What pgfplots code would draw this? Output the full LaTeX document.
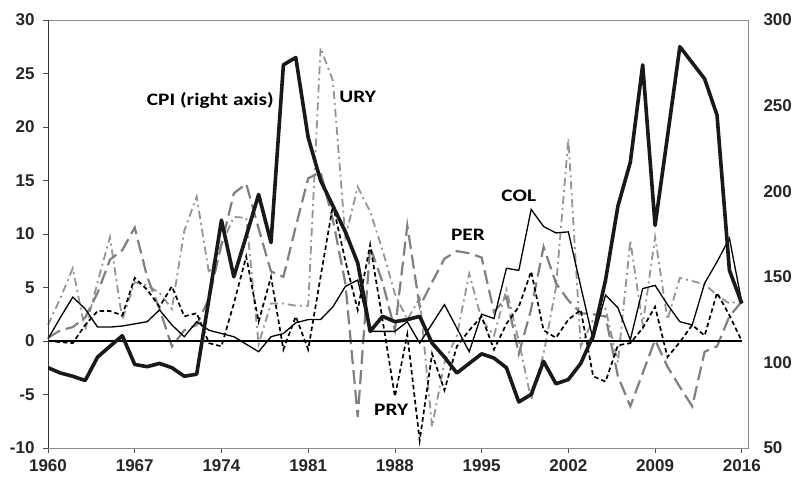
\documentclass[border=0pt]{standalone}
\usepackage{pgfplots}
\pgfplotsset{compat=1.18}
\usepackage{pgfplotstable}
\usepackage{fontspec}
\setmainfont{Liberation Sans}
\newfontfamily\carlito[FakeStretch=1.22]{Carlito}
\pgfplotstableread{
year COL PRY PER URY CPI
1960 0.2 0.0 0.3 1.5 96.9
1961 2.2 -0.1 1.0 4.0 93.8
1962 4.1 -0.2 1.3 6.8 91.9
1963 3.0 1.5 2.2 1.0 89.4
1964 1.3 2.8 4.5 5.5 103.1
1965 1.3 2.8 7.6 9.7 109.4
1966 1.4 2.4 8.5 2.0 115.6
1967 1.6 5.9 10.6 5.5 98.8
1968 1.8 4.8 6.0 5.2 97.5
1969 2.9 3.2 3.0 4.5 99.4
1970 1.5 5.1 -0.5 3.0 96.9
1971 0.4 2.3 1.0 10.3 91.9
1972 1.8 2.6 1.5 13.5 93.1
1973 1.0 -0.2 4.0 6.3 137.5
1974 0.7 -0.5 9.0 9.0 183.1
1975 0.4 3.5 13.8 11.6 150.0
1976 -0.3 7.9 14.7 11.5 173.8
1977 -1.0 1.8 10.5 -0.3 198.1
1978 0.4 6.0 6.5 3.5 170.0
1979 0.7 -0.8 6.0 3.5 273.8
1980 1.7 2.3 10.7 3.3 278.1
1981 2.0 -0.8 15.2 3.3 231.3
1982 2.0 6.0 15.8 27.4 206.3
1983 3.2 12.7 11.3 24.3 191.3
1984 5.1 7.5 5.4 9.7 176.3
1985 5.7 2.9 -7.1 14.4 158.1
1986 0.9 9.0 8.8 12.1 118.1
1987 0.9 2.0 5.5 8.5 126.9
1988 0.9 -5.2 1.0 4.4 123.8
1989 1.8 0.6 10.8 2.0 125.0
1990 -0.2 -9.3 3.2 4.0 126.9
1991 1.6 -1.2 5.5 -8.0 111.3
1992 3.4 -4.6 7.7 -2.0 103.1
1993 1.2 -0.5 8.4 0.5 93.8
1994 -1.0 1.0 8.2 6.3 99.4
1995 2.5 2.3 7.8 2.0 105.0
1996 2.1 -0.8 2.7 0.5 102.5
1997 6.8 1.6 4.1 4.8 96.9
1998 6.6 3.2 -1.2 0.0 76.9
1999 12.3 6.5 3.0 -5.5 81.3
2000 10.7 1.0 8.8 -1.2 100.6
2001 10.1 0.3 5.4 5.0 87.5
2002 10.2 2.0 3.8 18.9 90.0
2003 5.1 2.9 2.6 -0.5 99.4
2004 0.1 -3.3 2.5 2.0 115.6
2005 4.3 -3.8 2.3 3.0 148.1
2006 3.1 -0.4 -3.3 -2.0 191.3
2007 0.1 -0.2 -6.1 9.4 216.9
2008 4.9 1.2 -3.0 1.5 273.8
2009 5.2 3.2 0.1 9.7 180.0
2010 3.4 -1.5 -2.4 2.0 231.9
2011 1.8 -0.1 -4.3 5.9 284.4
2012 1.5 1.5 -6.1 5.6 275.0
2013 5.4 0.5 -1.0 5.3 265.6
2014 7.4 4.5 -0.5 4.3 244.4
2015 9.6 2.4 2.3 3.5 153.8
2016 3.6 0.0 3.7 3.8 134.4
}\data
\definecolor{pergray}{gray}{0.50}
\definecolor{urygray}{gray}{0.58}
\begin{document}
\begin{tikzpicture}[x=1pt,y=1pt]
\path[use as bounding box] (-48,-31) rectangle (747,448);
\pgfplotsset{
  every tick label/.append style={font=\fontsize{17}{20}\selectfont\bfseries, text=black!85},
  /pgf/number format/assume math mode=true,
}
\begin{axis}[
  scale only axis, width=700pt, height=428pt,
  xmin=1960, xmax=2016.5, ymin=-10, ymax=30,
  xtick={1960,1967,1974,1981,1988,1995,2002,2009,2016},
  ytick={-10,-5,0,5,10,15,20,25,30},
  xticklabel style={/pgf/number format/1000 sep={}, yshift=-3pt},
  yticklabel style={xshift=-5pt},
  xtick pos=bottom, ytick pos=left,
  tick align=outside, major tick length=5pt,
  tick style={black!70, line width=0.8pt},
  axis line style={black!45, line width=0.8pt},
  clip=false,
]
\addplot[urygray, line width=1.8pt, dash pattern=on 8pt off 4pt on 2pt off 4pt] table[x=year,y=URY]{\data};
\addplot[pergray, line width=2.2pt, dash pattern=on 14pt off 6pt] table[x=year,y=PER]{\data};
\addplot[black, line width=1.7pt, dash pattern=on 4.5pt off 3pt] table[x=year,y=PRY]{\data};
\addplot[black, line width=1.3pt] table[x=year,y=COL]{\data};
\addplot[black, line width=1.4pt] coordinates {(1960,0) (2016,0)};
\draw[black!80, line width=0.8pt] (rel axis cs:0,0) -- (rel axis cs:0,1);
\node[font=\carlito\fontsize{17.5}{20}\selectfont\bfseries] at (axis cs:1973.1,22.5) {CPI (right axis)};
\node[font=\carlito\fontsize{17.5}{20}\selectfont\bfseries] at (axis cs:1985.0,22.8) {URY};
\node[font=\carlito\fontsize{17.5}{20}\selectfont\bfseries] at (axis cs:1993.9,9.9) {PER};
\node[font=\carlito\fontsize{17.5}{20}\selectfont\bfseries] at (axis cs:1998.0,13.55) {COL};
\node[font=\carlito\fontsize{17.5}{20}\selectfont\bfseries] at (axis cs:1987.7,-6.45) {PRY};
\end{axis}
\begin{axis}[
  scale only axis, width=700pt, height=428pt,
  xmin=1960, xmax=2016.5, ymin=50, ymax=300,
  axis x line=none, axis y line*=right,
  ytick={50,100,...,300},
  major tick length=0pt,
  axis line style={draw=none},
  yticklabel style={xshift=12pt},
]
\addplot[black!90, line width=3.6pt, line join=round] table[x=year,y=CPI]{\data};
\end{axis}
\end{tikzpicture}
\end{document}
